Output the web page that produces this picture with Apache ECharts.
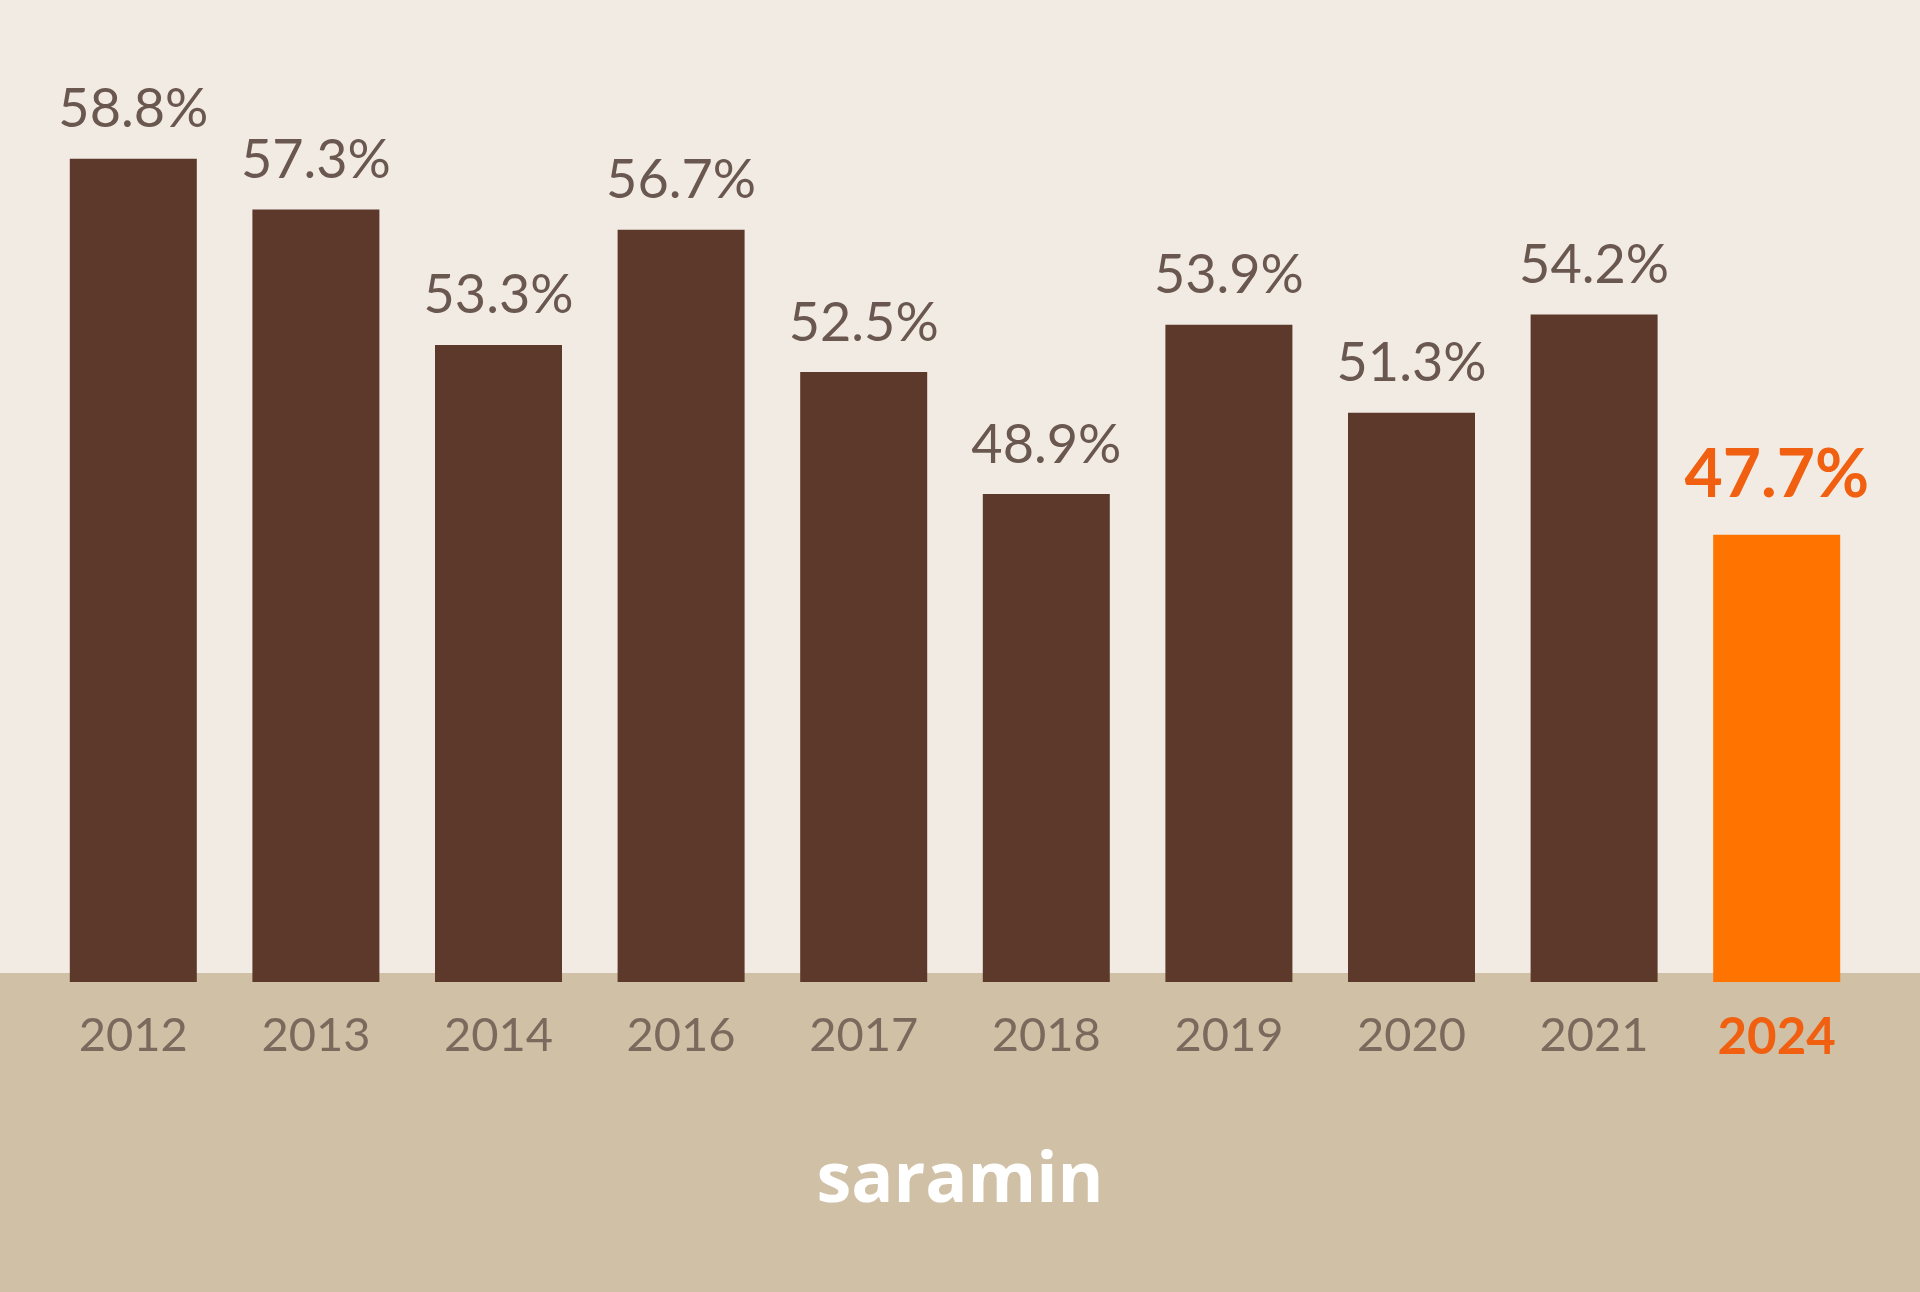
<!DOCTYPE html>
<html>
<head>
<meta charset="utf-8">
<script src="https://cdn.jsdelivr.net/npm/echarts@6/dist/echarts.min.js"></script>
<style>
html,body{margin:0;padding:0;background:#f1ebe4;}
#chart{width:1920px;height:1292px;}
</style>
</head>
<body>
<div id="chart"></div>
<script>
const categories = ['2012','2013','2014','2016','2017','2018','2019','2020','2021','2024'];
const values = [58.8, 57.3, 53.3, 56.7, 52.5, 48.9, 53.9, 51.3, 54.2, 47.7];
const highlightCategory = '2024';

const BROWN = '#5c392b';
const ORANGE = '#ff7300';
const ORANGE_TEXT = '#f06010';

const chart = echarts.init(document.getElementById('chart'), null, {renderer: 'canvas'});

const seriesData = values.map((v, i) => {
  const hl = categories[i] === highlightCategory;
  return {
    value: v,
    itemStyle: {color: hl ? ORANGE : BROWN},
    label: hl ? {color: ORANGE_TEXT, fontWeight: 'bold', fontSize: 66, distance: 26} : {}
  };
});

chart.setOption({
  backgroundColor: '#f1ebe4',
  animation: false,
  grid: {left: 42, right: 52, top: 118, bottom: 310, containLabel: false},
  xAxis: {
    type: 'category',
    data: categories,
    axisLine: {show: false},
    axisTick: {show: false},
    axisLabel: {
      interval: 0,
      margin: 30,
      fontFamily: 'Lato',
      fontSize: 47,
      color: '#7b695d',
      formatter: function (val) {
        return val === highlightCategory ? '{hl|' + val + '}' : val;
      },
      rich: {
        hl: {color: ORANGE_TEXT, fontWeight: 'bold', fontSize: 51, fontFamily: 'Lato'}
      }
    }
  },
  yAxis: {
    type: 'value',
    min: 34.5,
    max: 60,
    show: false
  },
  graphic: [
    {
      type: 'rect',
      z: -10,
      shape: {x: 0, y: 973, width: 1920, height: 319},
      style: {fill: '#d0c0a6'}
    },
    {
      type: 'text',
      z: 10,
      x: 960,
      y: 1182,
      style: {
        text: 'saramin',
        fill: '#ffffff',
        font: 'bold 70px "Open Sans"',
        align: 'center',
        verticalAlign: 'middle'
      }
    }
  ],
  series: [{
    type: 'bar',
    data: seriesData,
    barWidth: 127,
    label: {
      show: true,
      position: 'top',
      distance: 22,
      fontFamily: 'Lato',
      fontSize: 54,
      color: '#6a5850',
      formatter: function (p) { return p.value.toFixed(1) + '%'; }
    }
  }]
});
</script>
</body>
</html>
